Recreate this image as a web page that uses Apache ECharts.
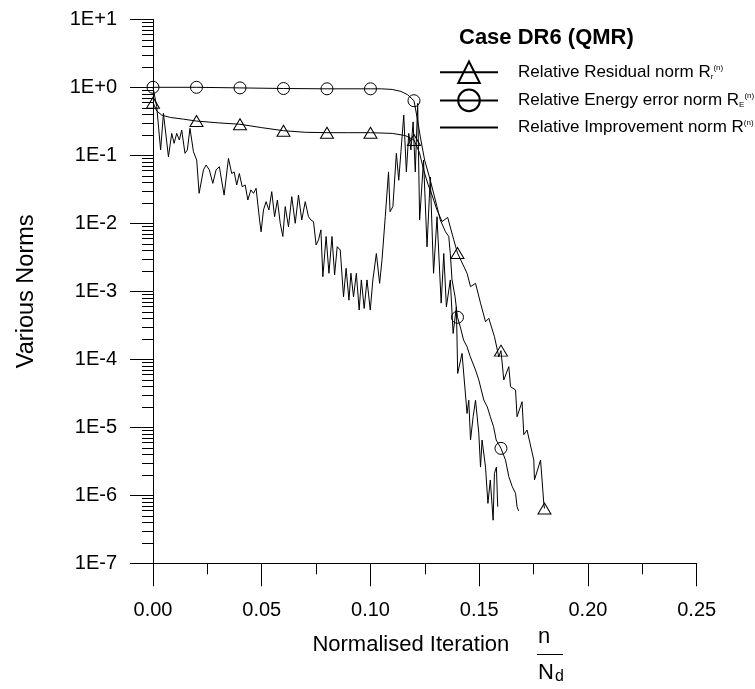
<!DOCTYPE html>
<html>
<head>
<meta charset="utf-8">
<title>Case DR6 (QMR)</title>
<script src="https://cdn.jsdelivr.net/npm/echarts@6/dist/echarts.min.js"></script>
<style>
  html, body { margin: 0; padding: 0; background: #fff; }
  #chart { width: 755px; height: 689px; }
</style>
</head>
<body>
<div id="chart"></div>
<script>
var FONT = "'Liberation Sans', Arial, sans-serif";

// y tick labels, index = exponent + 7
var yTickLabels = ['1E-7', '1E-6', '1E-5', '1E-4', '1E-3', '1E-2', '1E-1', '1E+0', '1E+1'];
// x positions where the residual / energy curves carry a marker
var markerSteps = [0, 0.02, 0.04, 0.06, 0.08, 0.10, 0.12, 0.14, 0.16, 0.18];

// Relative Residual norm (triangles)
var residual = [
  [0, 0.594], [0.0017, 0.45], [0.004, 0.39], [0.008, 0.36], [0.014, 0.34],
  [0.02, 0.319], [0.03, 0.30], [0.04, 0.286], [0.05, 0.255], [0.06, 0.23],
  [0.07, 0.218], [0.08, 0.215], [0.09, 0.215], [0.10, 0.215], [0.11, 0.21],
  [0.116, 0.195], [0.12, 0.168], [0.1225, 0.11], [0.1245, 0.06], [0.1265, 0.037],
  [0.1283, 0.026], [0.1305, 0.016], [0.1329, 0.0106], [0.1355, 0.0122], [0.1383, 0.0057],
  [0.14, 0.00366], [0.1444, 0.00184], [0.146, 0.00117], [0.1483, 0.00131], [0.1506, 6.7e-4],
  [0.1529, 3.57e-4], [0.1544, 4.0e-4], [0.157, 2.15e-4], [0.159, 1.09e-4], [0.16, 1.34e-4],
  [0.1613, 4.97e-5], [0.1636, 7.8e-5], [0.1644, 3.95e-5], [0.1667, 3.54e-5], [0.1674, 1.43e-5],
  [0.1697, 2.38e-5], [0.1705, 7.8e-6], [0.172, 9.1e-6], [0.1751, 3.3e-6], [0.1754, 1.68e-6],
  [0.1782, 3.3e-6], [0.1797, 7.6e-7], [0.18, 6.4e-7]
];

// Relative Energy error norm (circles)
var energy = [
  [0, 1.0], [0.02, 1.0], [0.04, 0.98], [0.06, 0.96], [0.08, 0.95], [0.10, 0.95],
  [0.105, 0.95], [0.11, 0.93], [0.114, 0.87], [0.117, 0.78], [0.12, 0.635],
  [0.1215, 0.35], [0.123, 0.18], [0.1249, 0.085], [0.1275, 0.043], [0.1306, 0.0175],
  [0.1321, 0.0112], [0.1345, 0.0075], [0.136, 0.0064], [0.1367, 0.0036], [0.1375, 0.00147],
  [0.1389, 8.3e-4], [0.14, 4.15e-4], [0.1413, 3.0e-4], [0.1428, 1.92e-4], [0.1444, 1.53e-4],
  [0.1459, 1.09e-4], [0.1483, 6.96e-5], [0.1498, 4.97e-5], [0.1521, 2.52e-5], [0.1537, 2.0e-5],
  [0.1551, 1.43e-5], [0.1566, 1.02e-5], [0.1578, 6.5e-6], [0.16, 4.9e-6], [0.1621, 3.3e-6],
  [0.1636, 1.88e-6], [0.1652, 1.34e-6], [0.1667, 1.07e-6], [0.1674, 6.8e-7], [0.1681, 5.9e-7]
];

// Relative Improvement norm (no markers)
var improvement = [
  [0, 1.0], [0.0009, 0.97], [0.0017, 0.52], [0.0035, 0.12], [0.0048, 0.414],
  [0.0071, 0.095], [0.0086, 0.21], [0.0097, 0.15], [0.0109, 0.21], [0.0121, 0.168],
  [0.0132, 0.235], [0.0147, 0.107], [0.0158, 0.12], [0.017, 0.249], [0.0186, 0.113],
  [0.0201, 0.085], [0.0212, 0.0276], [0.0221, 0.026], [0.0232, 0.061], [0.0244, 0.072],
  [0.0259, 0.061], [0.0275, 0.0387], [0.029, 0.061], [0.0305, 0.068], [0.0327, 0.026],
  [0.0347, 0.09], [0.0362, 0.054], [0.0373, 0.057], [0.0385, 0.0366], [0.0397, 0.054],
  [0.041, 0.0346], [0.0424, 0.0366], [0.0436, 0.022], [0.045, 0.031], [0.0462, 0.0276],
  [0.0474, 0.0327], [0.049, 0.0112], [0.0497, 0.0075], [0.0508, 0.0157], [0.052, 0.0208],
  [0.0533, 0.0157], [0.0546, 0.0292], [0.0559, 0.0125], [0.0572, 0.022], [0.0585, 0.01],
  [0.0597, 0.0064], [0.0608, 0.0176], [0.0623, 0.0089], [0.0638, 0.0247], [0.0654, 0.01],
  [0.0669, 0.026], [0.0684, 0.0112], [0.07, 0.0208], [0.0715, 0.0125], [0.0726, 0.0112],
  [0.0738, 0.0106], [0.075, 0.0048], [0.0761, 0.0057], [0.0772, 0.008], [0.0781, 0.00164],
  [0.0796, 0.0064], [0.0809, 0.00184], [0.0823, 0.0064], [0.0835, 0.00174], [0.0847, 0.00453],
  [0.0861, 0.00405], [0.0876, 8.3e-4], [0.0888, 0.00218], [0.0901, 7.4e-4], [0.091, 0.00184],
  [0.0922, 8.3e-4], [0.0935, 0.00184], [0.0948, 5.3e-4], [0.0958, 0.00147], [0.0971, 5.6e-4],
  [0.0984, 0.00147], [0.0999, 5.3e-4], [0.1011, 0.00147], [0.1027, 0.0036], [0.1042, 0.00131],
  [0.1053, 0.0029], [0.1068, 0.0125], [0.1076, 0.0132], [0.1083, 0.057], [0.109, 0.0148],
  [0.1103, 0.0176], [0.1119, 0.107], [0.113, 0.043], [0.114, 0.113], [0.1153, 0.39],
  [0.1165, 0.057], [0.1176, 0.21], [0.1186, 0.12], [0.1196, 0.31], [0.1206, 0.057],
  [0.1217, 0.58], [0.1226, 0.0112], [0.1244, 0.085], [0.126, 0.0045], [0.1275, 0.048],
  [0.129, 0.00184], [0.1306, 0.0125], [0.1325, 6.7e-4], [0.1337, 0.0036], [0.1349, 5.9e-4],
  [0.1367, 0.00147], [0.138, 2.4e-4], [0.1395, 5.9e-4], [0.1401, 6.2e-5], [0.1421, 1.22e-4],
  [0.1444, 1.6e-5], [0.1452, 2.5e-5], [0.146, 6.5e-6], [0.1472, 1.43e-5], [0.1483, 2.5e-5],
  [0.1498, 8.2e-6], [0.1506, 2.6e-6], [0.1513, 6.5e-6], [0.1529, 2.6e-6], [0.154, 7.6e-7],
  [0.1551, 1.68e-6], [0.1564, 4.3e-7], [0.157, 2.1e-6], [0.1579, 2.6e-6], [0.1585, 6.8e-7]
];

var legendLabels = {
  'Relative Residual norm': '{g|}{t|Relative Residual norm R}{sub|r}{sup|(n)}',
  'Relative Energy error norm': '{g|}{t|Relative Energy error norm R}{sub|E}{sup|(n)}',
  'Relative Improvement norm': '{g|}{t|Relative Improvement norm R}{sup|(n)}'
};

function withMarkers(points) {
  return points.map(function (p) {
    var hit = markerSteps.some(function (m) { return Math.abs(m - p[0]) < 1e-9; });
    return hit ? { value: p } : { value: p, symbol: 'none' };
  });
}

var chart = echarts.init(document.getElementById('chart'));

var lineStyle = { color: '#000', width: 1 };
var markerStyle = { color: 'transparent', borderColor: '#000', borderWidth: 1 };

var option = {
  animation: false,
  backgroundColor: '#fff',
  title: {
    text: 'Case DR6 (QMR)',
    left: 459,
    top: 27,
    padding: 0,
    textStyle: { fontFamily: FONT, fontSize: 22, fontWeight: 'bold', color: '#000' }
  },
  legend: {
    orient: 'vertical',
    left: 439,
    top: 60.5,
    padding: 0,
    itemWidth: 58,
    itemHeight: 27,
    itemGap: 4.5,
    selectedMode: false,
    data: ['Relative Residual norm', 'Relative Energy error norm', 'Relative Improvement norm'],
    formatter: function (name) { return legendLabels[name]; },
    textStyle: {
      color: '#000',
      rich: {
        g: { width: 15 },
        t: { fontFamily: FONT, fontSize: 17, color: '#000' },
        sub: { fontFamily: FONT, fontSize: 8, color: '#000', verticalAlign: 'bottom' },
        sup: { fontFamily: FONT, fontSize: 8, color: '#000', verticalAlign: 'top' }
      }
    }
  },
  grid: {
    left: 153,
    top: 19.3,
    width: 543.7,
    height: 544,
    outerBoundsMode: 'none',
    containLabel: false
  },
  xAxis: {
    type: 'value',
    min: 0,
    max: 0.25,
    interval: 0.05,
    name: 'Normalised Iteration',
    nameLocation: 'middle',
    nameGap: 71,
    nameTextStyle: { fontFamily: FONT, fontSize: 22, color: '#000', padding: [0, 28, 0, 0] },
    axisLine: { onZero: false, lineStyle: { color: '#000', width: 1 } },
    axisTick: { inside: false, length: 23, lineStyle: { color: '#000', width: 1 } },
    minorTick: { show: true, splitNumber: 2, length: 11, lineStyle: { color: '#000', width: 1 } },
    splitLine: { show: false },
    axisLabel: {
      margin: 37,
      fontFamily: FONT,
      fontSize: 20,
      color: '#000',
      formatter: function (v) { return v.toFixed(2); }
    }
  },
  yAxis: {
    type: 'log',
    logBase: 10,
    min: 1e-7,
    max: 10,
    splitNumber: 8,
    name: 'Various Norms',
    nameLocation: 'middle',
    nameRotate: 90,
    nameGap: 114,
    nameTextStyle: { fontFamily: FONT, fontSize: 23.5, color: '#000' },
    axisLine: { onZero: false, lineStyle: { color: '#000', width: 1 } },
    axisTick: { inside: false, length: 23, lineStyle: { color: '#000', width: 1 } },
    splitLine: { show: false },
    axisLabel: {
      margin: 36,
      fontFamily: FONT,
      fontSize: 20,
      color: '#000',
      formatter: function (v) {
        var e = Math.round(Math.log(v) / Math.LN10);
        return yTickLabels[e + 7] || '';
      }
    }
  },
  series: [
    {
      name: 'Relative Residual norm',
      type: 'line',
      symbol: 'triangle',
      symbolSize: [13, 11],
      showAllSymbol: true,
      data: withMarkers(residual),
      lineStyle: lineStyle,
      itemStyle: markerStyle,
      emphasis: { disabled: true },
      z: 3
    },
    {
      name: 'Relative Energy error norm',
      type: 'line',
      symbol: 'circle',
      symbolSize: 12,
      showAllSymbol: true,
      data: withMarkers(energy),
      lineStyle: lineStyle,
      itemStyle: markerStyle,
      emphasis: { disabled: true },
      z: 3
    },
    {
      name: 'Relative Improvement norm',
      type: 'line',
      symbol: 'none',
      data: improvement,
      lineStyle: lineStyle,
      // no markers on this curve, so keep the legend icon to a plain line
      itemStyle: { color: 'transparent', borderColor: 'transparent', borderWidth: 0 },
      emphasis: { disabled: true },
      z: 2
    }
  ]
};

chart.setOption(option);

// log minor ticks on the y axis (2..9 in each decade), placed through the axis scale
var extras = [];
var x0 = chart.convertToPixel({ xAxisIndex: 0 }, 0);
for (var d = -7; d < 1; d++) {
  for (var k = 2; k <= 9; k++) {
    var py = Math.round(chart.convertToPixel({ yAxisIndex: 0 }, k * Math.pow(10, d))) + 0.5;
    extras.push({
      type: 'line',
      silent: true,
      shape: { x1: x0 - 11, y1: py, x2: x0, y2: py },
      style: { stroke: '#000', lineWidth: 1 }
    });
  }
}

// the n / N_d fraction after the x axis name
extras.push(
  {
    type: 'text',
    silent: true,
    style: { text: 'n', x: 544, y: 637, fontFamily: FONT, fontSize: 22, fill: '#000', align: 'center', verticalAlign: 'middle' }
  },
  {
    type: 'line',
    silent: true,
    shape: { x1: 537, y1: 654.5, x2: 563, y2: 654.5 },
    style: { stroke: '#000', lineWidth: 1 }
  },
  {
    type: 'text',
    silent: true,
    style: { text: 'N', x: 538, y: 673, fontFamily: FONT, fontSize: 22, fill: '#000', align: 'left', verticalAlign: 'middle' }
  },
  {
    type: 'text',
    silent: true,
    style: { text: 'd', x: 555, y: 669, fontFamily: FONT, fontSize: 16, fill: '#000', align: 'left', verticalAlign: 'top' }
  }
);

chart.setOption({ graphic: extras });
</script>
</body>
</html>
